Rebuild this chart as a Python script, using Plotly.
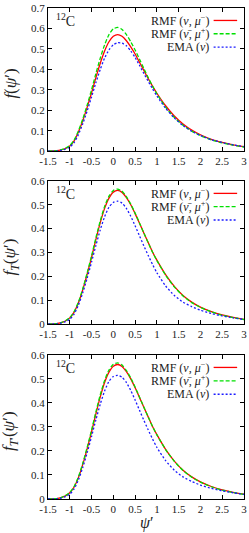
import plotly.graph_objects as go

# ---- data ----
psi = [-1.5, -1.3, -1.2, -1.1, -1.0, -0.9, -0.8, -0.7, -0.6, -0.5, -0.4, -0.3, -0.2, -0.1,
       0.0, 0.1, 0.2, 0.3, 0.4, 0.5, 0.6, 0.7, 0.8, 0.9, 1.0, 1.2, 1.4, 1.6, 1.8, 2.0,
       2.25, 2.5, 2.75, 3.0]

f_rmf_nu = [0, 0.002, 0.006, 0.013, 0.025, 0.05, 0.095, 0.15, 0.215, 0.285, 0.36, 0.43, 0.49, 0.535,
            0.562, 0.57, 0.562, 0.54, 0.51, 0.475, 0.435, 0.395, 0.355, 0.318, 0.283, 0.222, 0.172,
            0.133, 0.103, 0.08, 0.058, 0.043, 0.031, 0.022]
f_rmf_nubar = [0, 0.002, 0.006, 0.014, 0.027, 0.054, 0.10, 0.158, 0.226, 0.30, 0.38, 0.455, 0.52, 0.57,
               0.598, 0.605, 0.595, 0.57, 0.535, 0.495, 0.45, 0.405, 0.36, 0.318, 0.28, 0.215, 0.165,
               0.127, 0.098, 0.076, 0.055, 0.040, 0.029, 0.020]
f_ema_nu = [0, 0.001, 0.004, 0.010, 0.02, 0.042, 0.082, 0.135, 0.197, 0.265, 0.335, 0.40, 0.455, 0.495,
            0.52, 0.53, 0.528, 0.515, 0.49, 0.458, 0.42, 0.38, 0.342, 0.305, 0.27, 0.21, 0.162,
            0.125, 0.097, 0.076, 0.056, 0.042, 0.031, 0.022]

fT_rmf_nu = [0, 0.002, 0.006, 0.013, 0.026, 0.05, 0.09, 0.145, 0.21, 0.28, 0.355, 0.425, 0.485, 0.528,
             0.553, 0.56, 0.552, 0.53, 0.5, 0.463, 0.423, 0.382, 0.342, 0.302, 0.268, 0.207, 0.158,
             0.12, 0.092, 0.071, 0.052, 0.038, 0.028, 0.02]
fT_rmf_nubar = [0, 0.002, 0.006, 0.014, 0.027, 0.052, 0.093, 0.149, 0.215, 0.286, 0.362, 0.433, 0.493, 0.536,
                0.56, 0.566, 0.557, 0.534, 0.503, 0.465, 0.424, 0.382, 0.341, 0.301, 0.266, 0.205, 0.156,
                0.118, 0.09, 0.07, 0.051, 0.037, 0.027, 0.019]
fT_ema_nu = [0, 0.001, 0.004, 0.01, 0.02, 0.042, 0.08, 0.132, 0.193, 0.26, 0.33, 0.395, 0.45, 0.49,
             0.51, 0.515, 0.507, 0.485, 0.452, 0.412, 0.37, 0.328, 0.288, 0.25, 0.215, 0.16, 0.12,
             0.092, 0.073, 0.058, 0.044, 0.034, 0.026, 0.019]

fTp_rmf_nu = [0, 0.002, 0.006, 0.013, 0.026, 0.05, 0.09, 0.145, 0.21, 0.28, 0.355, 0.425, 0.485, 0.528,
              0.553, 0.56, 0.552, 0.53, 0.5, 0.463, 0.423, 0.382, 0.342, 0.302, 0.268, 0.207, 0.158,
              0.12, 0.092, 0.071, 0.052, 0.038, 0.028, 0.02]
fTp_rmf_nubar = [0, 0.002, 0.006, 0.014, 0.027, 0.052, 0.093, 0.15, 0.216, 0.287, 0.363, 0.434, 0.494, 0.537,
                 0.561, 0.567, 0.558, 0.535, 0.504, 0.466, 0.425, 0.383, 0.342, 0.302, 0.267, 0.206, 0.157,
                 0.119, 0.091, 0.07, 0.051, 0.037, 0.027, 0.019]
fTp_ema_nu = [0, 0.001, 0.004, 0.01, 0.02, 0.042, 0.08, 0.132, 0.193, 0.26, 0.33, 0.395, 0.45, 0.49,
              0.51, 0.515, 0.507, 0.485, 0.452, 0.412, 0.37, 0.328, 0.288, 0.25, 0.215, 0.16, 0.12,
              0.092, 0.073, 0.058, 0.044, 0.034, 0.026, 0.019]

x_tickvals = [-1.5, -1, -0.5, 0, 0.5, 1, 1.5, 2, 2.5, 3]
x_ticktext = ["-1.5", "-1", "-0.5", "0", "0.5", "1", "1.5", "2", "2.5", "3"]
y1_tickvals = [0, 0.1, 0.2, 0.3, 0.4, 0.5, 0.6, 0.7]
y23_tickvals = [0, 0.1, 0.2, 0.3, 0.4, 0.5, 0.6]
y_ticktext = ["0", "0.1", "0.2", "0.3", "0.4", "0.5", "0.6", "0.7"]

series_names = ["RMF (<i>ν</i>, <i>μ</i><sup>−</sup>)",
                "RMF (<i>ν̄</i>, <i>μ</i><sup>+</sup>)",
                "EMA (<i>ν</i>)"]
y_titles = ["<i>f</i>(<i>ψ</i>′)",
            "<i>f</i><sub><i>T</i></sub>(<i>ψ</i>′)",
            "<i>f</i><sub><i>T</i>′</sub>(<i>ψ</i>′)"]

panels = [
    (f_rmf_nu, f_rmf_nubar, f_ema_nu, 0.7, y1_tickvals),
    (fT_rmf_nu, fT_rmf_nubar, fT_ema_nu, 0.6, y23_tickvals),
    (fTp_rmf_nu, fTp_rmf_nubar, fTp_ema_nu, 0.6, y23_tickvals),
]
domains = [[0.7085, 1.0], [0.3563, 0.6478], [0.0, 0.2935]]

colors = ["#ff0000", "#00e000", "#1a1aff"]
dashes = ["solid", "4px,2px", "2px,2px"]

FONT = "Liberation Serif, DejaVu Serif, serif"
TXT = "#222222"

fig = go.Figure()
layout = dict(
    width=249, height=533, autosize=False,
    margin=dict(l=48, r=2, t=5, b=34),
    paper_bgcolor="white", plot_bgcolor="white",
    showlegend=False,
    font=dict(family=FONT, size=11, color=TXT),
)
annotations = []
shapes = []

for i, (ra, ga, ba, ymax, ytv) in enumerate(panels):
    n = "" if i == 0 else str(i + 1)
    xa, ya = "x" + n, "y" + n
    for vals, c, d, nm in zip((ra, ga, ba), colors, dashes, series_names):
        fig.add_trace(go.Scatter(x=psi, y=vals, mode="lines", xaxis=xa, yaxis=ya, name=nm,
                                 line=dict(color=c, width=1.3, dash=d, shape="spline", smoothing=0.6)))
    axcommon = dict(showline=True, linecolor="#000000", linewidth=1, mirror="allticks",
                    ticks="inside", ticklen=4, tickcolor="#000000", showgrid=False, zeroline=False,
                    ticklabeloverflow="allow",
                    tickfont=dict(family=FONT, size=11, color=TXT))
    layout["xaxis" + n] = dict(axcommon, range=[-1.5, 3], tickvals=x_tickvals, ticktext=x_ticktext,
                               anchor=ya, domain=[0, 1])
    layout["yaxis" + n] = dict(axcommon, range=[0, ymax], tickvals=ytv, ticktext=y_ticktext[:len(ytv)],
                               anchor=xa, domain=domains[i])
    xd, yd = xa + " domain", ya + " domain"
    annotations.append(dict(text="<sup>12</sup>C", xref=xd, yref=yd, x=0.03, y=0.915,
                            xanchor="left", yanchor="middle", showarrow=False,
                            font=dict(family=FONT, size=14, color=TXT)))
    annotations.append(dict(text=y_titles[i], xref="paper", yref=yd, x=-0.19, y=0.47,
                            textangle=-90, xanchor="center", yanchor="middle", showarrow=False,
                            font=dict(family=FONT, size=17, color=TXT)))
    row_y = [0.913, 0.82, 0.727]
    for k in range(3):
        annotations.append(dict(text=series_names[k], xref=xd, yref=yd, x=0.83, y=row_y[k],
                                xanchor="right", yanchor="middle", showarrow=False,
                                font=dict(family=FONT, size=12, color=TXT)))
        shapes.append(dict(type="line", xref=xd, yref=yd, x0=0.845, x1=0.965, y0=row_y[k], y1=row_y[k],
                           line=dict(color=colors[k], width=1.3, dash=dashes[k])))

annotations.append(dict(text="<i>ψ</i>′", xref="paper", yref="paper", x=0.5, y=-0.048,
                        xanchor="center", yanchor="middle", showarrow=False,
                        font=dict(family=FONT, size=16, color=TXT)))
layout["annotations"] = annotations
layout["shapes"] = shapes
fig.update_layout(**layout)
fig.write_html("out.html", config={"displayModeBar": False},
               post_script="document.body.style.margin='0';document.body.style.padding='0';")
